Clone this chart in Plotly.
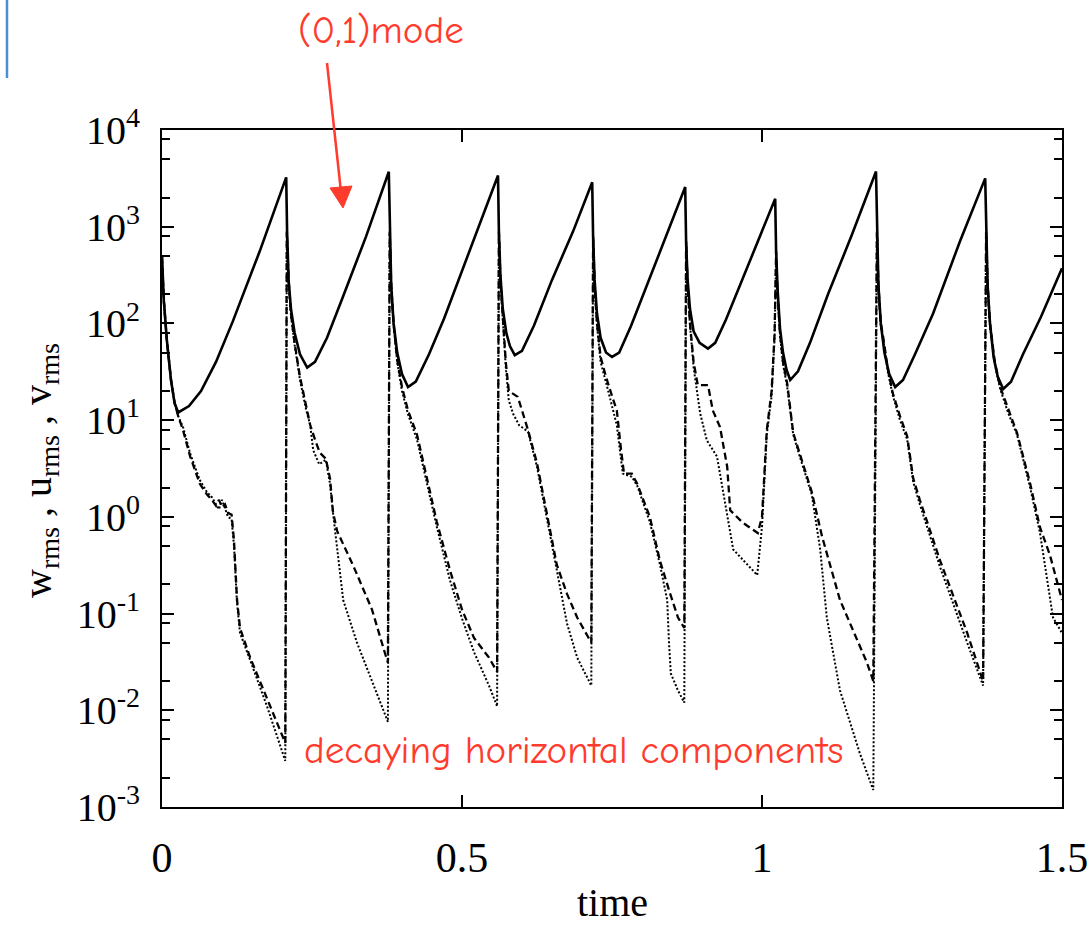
import plotly.graph_objects as go

# ---- (0,1) mode : w_rms (solid) ----
t_w = [0.000, 0.003, 0.008, 0.015, 0.021, 0.027, 0.045, 0.065, 0.090, 0.118, 0.163, 0.207,
       0.2085, 0.211, 0.215, 0.221, 0.230, 0.242, 0.255, 0.275, 0.300, 0.340, 0.378,
       0.3795, 0.382, 0.386, 0.392, 0.400, 0.410, 0.423, 0.445, 0.470, 0.515, 0.560,
       0.5615, 0.564, 0.568, 0.574, 0.580, 0.588, 0.600, 0.620, 0.650, 0.685, 0.717,
       0.7185, 0.721, 0.725, 0.731, 0.740, 0.750, 0.762, 0.782, 0.810, 0.840, 0.872,
       0.8735, 0.876, 0.880, 0.886, 0.896, 0.910, 0.922, 0.940, 0.965, 0.995, 1.022,
       1.0235, 1.026, 1.030, 1.035, 1.041, 1.047, 1.060, 1.080, 1.110, 1.150, 1.190,
       1.1915, 1.194, 1.198, 1.204, 1.212, 1.222, 1.235, 1.255, 1.285, 1.330, 1.372,
       1.3735, 1.376, 1.380, 1.386, 1.393, 1.402, 1.415, 1.435, 1.465, 1.500]
w_rms = [490, 174, 68, 26, 15, 12, 14, 20, 40, 105, 560, 3240,
         890, 280, 140, 80, 48, 35, 40, 71, 178, 790, 3700,
         890, 250, 100, 50, 30, 22, 25, 48, 112, 630, 3390,
         890, 316, 141, 79, 58, 47, 52, 95, 282, 890, 2880,
         790, 282, 126, 71, 50, 45, 50, 95, 263, 790, 2570,
         708, 282, 141, 83, 63, 55, 63, 110, 263, 760, 1950,
         562, 224, 89, 50, 33, 26, 32, 63, 200, 830, 3720,
         890, 251, 100, 50, 30, 22, 26, 48, 126, 708, 3160,
         890, 251, 100, 45, 28, 21, 25, 48, 117, 372]

# ---- u_rms (dashed) ----
t_u = [0.000, 0.003, 0.008, 0.015, 0.021, 0.027, 0.035, 0.047, 0.063, 0.075, 0.083, 0.090, 0.095,
       0.100, 0.105, 0.110, 0.116, 0.120, 0.125, 0.130, 0.147, 0.175, 0.2055,
       0.2080, 0.211, 0.215, 0.221, 0.230, 0.240, 0.247, 0.255, 0.263, 0.273, 0.280, 0.285,
       0.292, 0.320, 0.350, 0.370, 0.3765,
       0.3795, 0.382, 0.386, 0.392, 0.400, 0.410, 0.425, 0.442, 0.458, 0.480, 0.500, 0.520,
       0.545, 0.5585,
       0.5615, 0.564, 0.568, 0.573, 0.578, 0.585, 0.593, 0.600, 0.610, 0.625, 0.647, 0.658,
       0.675, 0.692, 0.7155,
       0.7185, 0.721, 0.725, 0.731, 0.740, 0.750, 0.758, 0.765, 0.770, 0.783, 0.792, 0.813,
       0.830, 0.847, 0.860, 0.8705,
       0.8735, 0.876, 0.880, 0.886, 0.893, 0.910, 0.918, 0.930, 0.942, 0.947, 0.968, 0.993,
       1.000, 1.008, 1.016, 1.021, 1.0235,
       1.026, 1.030, 1.035, 1.042, 1.052, 1.063, 1.075, 1.083, 1.100, 1.130, 1.160, 1.175, 1.1855,
       1.1915, 1.194, 1.198, 1.202, 1.210, 1.218, 1.230, 1.242, 1.252, 1.263, 1.297, 1.342, 1.3685,
       1.3735, 1.376, 1.380, 1.388, 1.397, 1.410, 1.425, 1.447, 1.463, 1.480, 1.500]
u_rms = [490, 174, 68, 26, 15, 11, 7.9, 4.2, 2.2, 1.7, 1.5, 1.3, 1.5,
         1.26, 1.35, 1.1, 1.05, 0.57, 0.14, 0.071, 0.035, 0.013, 0.0046,
         890, 280, 126, 63, 28, 14, 8.9, 6.3, 4.6, 4.0, 2.5, 1.12,
         0.71, 0.30, 0.11, 0.042, 0.031,
         890, 250, 100, 42, 22, 12.6, 7.1, 2.5, 0.89, 0.28, 0.11, 0.056,
         0.035, 0.025,
         890, 282, 112, 40, 20, 18.6, 17.4, 12.6, 7.9, 3.6, 0.68, 0.32,
         0.16, 0.091, 0.050,
         790, 251, 100, 45, 28, 17.8, 12.6, 5.0, 2.8, 2.8, 2.2, 1.0,
         0.35, 0.16, 0.091, 0.071,
         708, 251, 100, 40, 23, 23, 12.6, 8.5, 3.3, 1.17, 0.87, 0.68,
         1.0, 7.9, 20, 79, 560,
         200, 79, 40, 24, 7.4, 4.6, 2.6, 1.8, 0.63, 0.138, 0.050, 0.031, 0.020,
         890, 251, 100, 72, 33, 19, 11, 6.8, 2.5, 1.5, 0.35, 0.063, 0.020,
         890, 251, 100, 40, 22, 13, 7.4, 2.2, 0.79, 0.40, 0.138]

# ---- v_rms (dotted) ----
t_v = [0.000, 0.003, 0.008, 0.015, 0.021, 0.027, 0.035, 0.047, 0.063, 0.075, 0.083, 0.090, 0.095,
       0.100, 0.105, 0.110, 0.116, 0.120, 0.125, 0.130, 0.147, 0.175, 0.2055,
       0.2080, 0.211, 0.215, 0.221, 0.230, 0.240, 0.247, 0.252, 0.262, 0.273, 0.280, 0.285,
       0.302, 0.325, 0.350, 0.3765,
       0.3795, 0.382, 0.386, 0.392, 0.400, 0.410, 0.425, 0.442, 0.458, 0.480, 0.500, 0.520,
       0.545, 0.5585,
       0.5615, 0.564, 0.568, 0.573, 0.578, 0.585, 0.595, 0.610, 0.625, 0.647, 0.658, 0.675,
       0.692, 0.7155,
       0.7185, 0.721, 0.725, 0.731, 0.742, 0.750, 0.758, 0.768, 0.783, 0.792, 0.813, 0.830,
       0.842, 0.845, 0.848, 0.860, 0.8705,
       0.8735, 0.876, 0.880, 0.886, 0.897, 0.908, 0.925, 0.952, 0.970, 0.992,
       1.000, 1.008, 1.016, 1.021, 1.0235,
       1.026, 1.030, 1.035, 1.042, 1.052, 1.063, 1.075, 1.083, 1.097, 1.108, 1.130, 1.163, 1.1855,
       1.1915, 1.194, 1.198, 1.202, 1.210, 1.218, 1.230, 1.242, 1.252, 1.263, 1.297, 1.342, 1.3685,
       1.3735, 1.376, 1.380, 1.388, 1.397, 1.410, 1.425, 1.447, 1.463, 1.485, 1.500]
v_rms = [490, 174, 68, 26, 15, 11, 8.5, 4.5, 2.4, 1.8, 1.6, 1.35, 1.2,
         1.5, 1.2, 1.0, 0.95, 0.5, 0.13, 0.063, 0.033, 0.011, 0.0030,
         850, 270, 120, 60, 26, 13, 8.9, 4.9, 3.5, 3.9, 2.2, 1.1,
         0.138, 0.050, 0.020, 0.0076,
         850, 240, 95, 40, 20, 11.5, 6.3, 2.2, 0.79, 0.22, 0.089, 0.040,
         0.018, 0.011,
         850, 270, 105, 35, 16, 11.7, 8.9, 7.6, 3.3, 0.63, 0.28, 0.079,
         0.035, 0.018,
         760, 240, 95, 40, 22, 14, 8.9, 2.8, 2.6, 2.1, 0.89, 0.32,
         0.138, 0.050, 0.024, 0.016, 0.012,
         680, 240, 95, 35, 11.7, 6.2, 4.2, 0.46, 0.35, 0.25,
         0.79, 7.1, 17.8, 71, 500,
         190, 76, 38, 22, 7.1, 4.2, 2.4, 1.7, 0.46, 0.091, 0.016, 0.0036, 0.0015,
         850, 240, 95, 68, 31, 18, 10, 6.3, 2.3, 1.35, 0.30, 0.050, 0.018,
         850, 240, 95, 38, 21, 12, 7.1, 2.0, 0.70, 0.091, 0.063]

x_tickvals = [0, 0.5, 1, 1.5]
x_ticktext = ["0", "0.5", "1", "1.5"]
y_tickvals = [1e-3, 1e-2, 1e-1, 1e0, 1e1, 1e2, 1e3, 1e4]
y_ticktext = ["10<sup>-3</sup>", "10<sup>-2</sup>", "10<sup>-1</sup>", "10<sup>0</sup>",
              "10<sup>1</sup>", "10<sup>2</sup>", "10<sup>3</sup>", "10<sup>4</sup>"]
y_minor = [m * 10.0 ** k for k in range(-3, 4) for m in (2, 5, 8)]
x_title = "time"
y_title = "w<sub>rms</sub> , u<sub>rms</sub> , v<sub>rms</sub>"

RED = "#ff3b2e"
SERIF = "Liberation Serif, Times New Roman, serif"
HAND = "Comic Sans MS, Comic Neue, Noto Sans, sans-serif"

# plot-area geometry in pixels (for placing titles and the hand-drawn annotations)
L, R, T, B = 162, 1062, 130, 807
def px(x):
    return (x - L) / (R - L)
def py(y):
    return (B - y) / (B - T)

fig = go.Figure()
fig.add_trace(go.Scatter(x=t_w, y=w_rms, mode="lines", name="w_rms",
                         line=dict(color="black", width=2.6)))
fig.add_trace(go.Scatter(x=t_u, y=u_rms, mode="lines", name="u_rms",
                         line=dict(color="black", width=2.3, dash="7px,4px")))
fig.add_trace(go.Scatter(x=t_v, y=v_rms, mode="lines", name="v_rms",
                         line=dict(color="black", width=2.0, dash="2px,2px")))

fig.update_layout(
    width=1091, height=925,
    margin=dict(l=L, r=1091 - R, t=T, b=925 - B, autoexpand=False),
    paper_bgcolor="white", plot_bgcolor="white",
    showlegend=False,
    font=dict(family=SERIF, color="black"),
    xaxis=dict(range=[0, 1.5], tickmode="array", tickvals=x_tickvals, ticktext=x_ticktext,
               ticks="inside", ticklen=12, tickwidth=2, tickcolor="black",
               showline=True, linecolor="black", linewidth=2, mirror="ticks",
               showgrid=False, zeroline=False, automargin=False,
               tickfont=dict(family=SERIF, size=42), ticklabelstandoff=13),
    yaxis=dict(type="log", range=[-3, 4], tickmode="array", tickvals=y_tickvals,
               ticktext=y_ticktext,
               ticks="inside", ticklen=12, tickwidth=2, tickcolor="black",
               minor=dict(tickmode="array", tickvals=y_minor, ticks="inside", ticklen=8,
                          tickwidth=1.5, tickcolor="black", showgrid=False),
               showline=True, linecolor="black", linewidth=2, mirror="ticks",
               showgrid=False, zeroline=False, automargin=False,
               tickfont=dict(family=SERIF, size=40), ticklabelstandoff=12),
    annotations=[
        dict(xref="paper", yref="paper", x=px(612), y=py(902),
             text=x_title, showarrow=False, xanchor="center", yanchor="middle",
             font=dict(family=SERIF, size=40)),
        dict(xref="paper", yref="paper", x=px(40), y=py(470),
             text=y_title, showarrow=False, xanchor="center", yanchor="middle",
             textangle=-90, font=dict(family=SERIF, size=40)),
        dict(xref="paper", yref="paper", x=px(381), y=py(30),
             text="(0,1)mode", showarrow=False, xanchor="center", yanchor="middle",
             font=dict(family=HAND, size=39, color=RED)),
        dict(xref="paper", yref="paper", x=px(574), y=py(750),
             text="decaying horizontal components", showarrow=False,
             xanchor="center", yanchor="middle",
             font=dict(family=HAND, size=39, color=RED)),
    ],
    shapes=[
        # blue cropping mark at the top-left
        dict(type="line", xref="paper", yref="paper",
             x0=px(7), x1=px(7), y0=py(0), y1=py(78),
             line=dict(color="#4a8fd6", width=2.5)),
        # red arrow shaft
        dict(type="line", xref="paper", yref="paper",
             x0=px(327), y0=py(63), x1=px(341), y1=py(192),
             line=dict(color=RED, width=2.5)),
        # red arrow head
        dict(type="path", xref="paper", yref="paper",
             path=f"M {px(330)},{py(188)} L {px(352)},{py(186)} L {px(343)},{py(208)} Z",
             fillcolor=RED, line=dict(color=RED, width=1)),
    ],
)

fig.write_html("out.html")
